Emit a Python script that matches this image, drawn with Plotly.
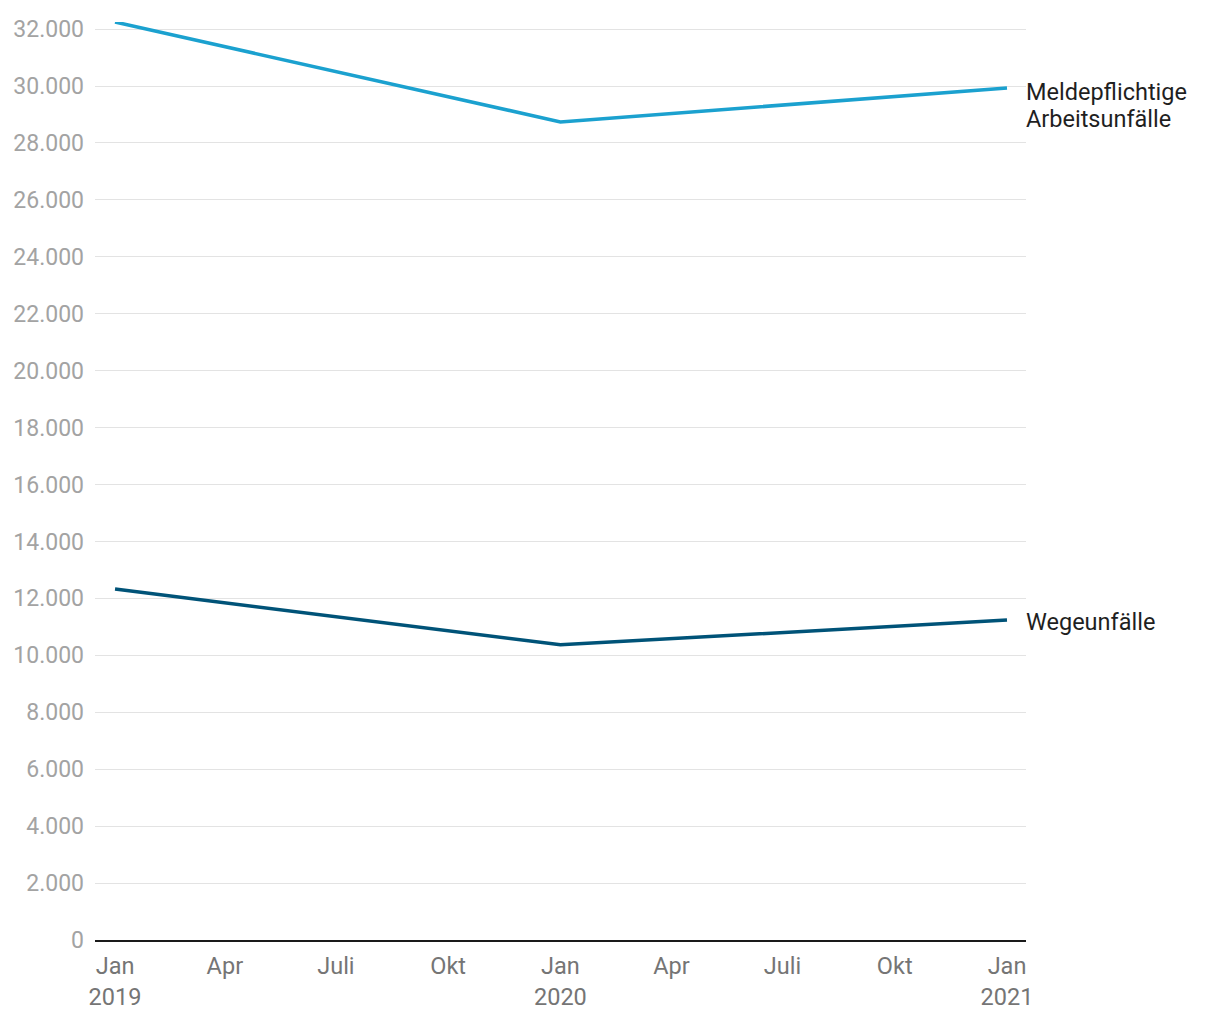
import plotly.graph_objects as go

dates = ["2019-01-01", "2020-01-01", "2021-01-01"]
meldepflichtige = [32250, 28740, 29930]
wegeunfaelle = [12330, 10370, 11240]

series_names = ["Meldepflichtige<br>Arbeitsunfälle", "Wegeunfälle"]
series_values = [meldepflichtige, wegeunfaelle]
series_colors = ["#1ba1cf", "#005378"]

tick_dates = ["2019-01-01", "2019-04-01", "2019-07-01", "2019-10-01",
              "2020-01-01", "2020-04-01", "2020-07-01", "2020-10-01", "2021-01-01"]
tick_text = ["Jan<br>2019", "Apr", "Juli", "Okt", "Jan<br>2020", "Apr", "Juli", "Okt", "Jan<br>2021"]
y_ticks = list(range(0, 32001, 2000))

FONT = "Roboto"

fig = go.Figure()
for name, vals, col in zip(series_names, series_values, series_colors):
    fig.add_trace(go.Scatter(x=dates, y=vals, mode="lines", name=name.replace("<br>", " "),
                             line=dict(color=col, width=3.5), hoverinfo="skip"))

annotations = []
for name, vals in zip(series_names, series_values):
    lines = name.split("<br>")
    base = -4 if len(lines) > 1 else -2
    for i, ln in enumerate(lines):
        annotations.append(dict(
            x=dates[-1], y=vals[-1], xref="x", yref="y", text=ln, showarrow=False,
            xanchor="left", yanchor="middle",
            xshift=17, yshift=base - 27 * i, align="left",
            font=dict(family=FONT, size=23.5, color="#1f1f1f"),
        ))

fig.update_layout(
    width=1220, height=1020,
    margin=dict(l=87, r=202, t=14, b=88),
    paper_bgcolor="white", plot_bgcolor="white",
    showlegend=False,
    separators=",.",
    font=dict(family=FONT),
    annotations=annotations,
)
fig.update_xaxes(
    type="date",
    range=["2018-12-15 14:00", "2021-01-16 14:00"],
    tickvals=tick_dates, ticktext=tick_text,
    tickfont=dict(family=FONT, size=23.5, color="#757575"),
    showgrid=False, zeroline=False,
    showline=True, linecolor="#1a1a1a", linewidth=2,
    ticks="", ticklabelstandoff=4, automargin=False,
)
fig.update_yaxes(
    range=[0, 32250],
    tickvals=y_ticks, tickformat=",d",
    tickfont=dict(family=FONT, size=23, color="#a3a3a3"),
    showgrid=True, gridcolor="#e3e3e3", gridwidth=1.3,
    zeroline=False, showline=False,
    ticks="", ticklabelstandoff=10, automargin=False,
)

fig.write_html("out.html")
